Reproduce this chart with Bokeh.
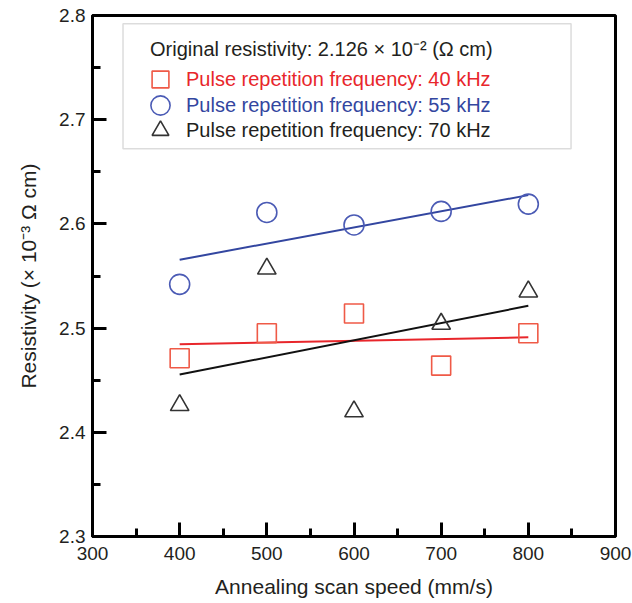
import numpy as np
from bokeh.plotting import figure
from bokeh.models import (Range1d, Legend, LegendItem, BoxAnnotation, FixedTicker, Label)
from bokeh.embed import file_html
from bokeh.resources import INLINE

# ---- data ----
speed = [400, 500, 600, 700, 800]
res_40 = [2.471, 2.495, 2.514, 2.464, 2.495]
res_55 = [2.542, 2.611, 2.599, 2.612, 2.619]
res_70 = [2.426, 2.557, 2.420, 2.504, 2.535]

x_major = [300, 400, 500, 600, 700, 800, 900]
x_minor = [350, 450, 550, 650, 750, 850]
y_major = [2.3, 2.4, 2.5, 2.6, 2.7, 2.8]
y_minor = [2.35, 2.45, 2.55, 2.65, 2.75]

labels = ["Pulse repetition frequency: 40 kHz",
          "Pulse repetition frequency: 55 kHz",
          "Pulse repetition frequency: 70 kHz"]
note = "Original resistivity: 2.126 \u00d7 10\u207b\u00b2 (\u03a9 cm)"

RED = "#e8262b"
RED_M = "#ef5a47"
BLUE = "#3346a0"
BLUE_M = "#4b5bb5"
BLACK = "#111111"
FONT = "Liberation Sans"
TXT = "#231f20"

p = figure(width=632, height=603, output_backend="svg", toolbar_location=None,
           x_range=Range1d(300, 900), y_range=Range1d(2.3, 2.8),
           min_border_left=92, min_border_right=17, min_border_top=15, min_border_bottom=67)
p.xgrid.visible = False
p.ygrid.visible = False
p.outline_line_color = "black"
p.outline_line_width = 3
p.outline_line_alpha = 1

p.xaxis.ticker = FixedTicker(ticks=x_major, minor_ticks=x_minor)
p.yaxis.ticker = FixedTicker(ticks=y_major, minor_ticks=y_minor)
for ax in (p.xaxis, p.yaxis):
    ax.axis_line_width = 3
    ax.axis_line_color = "black"
    ax.major_tick_in = 14
    ax.major_tick_out = 0
    ax.minor_tick_in = 8
    ax.minor_tick_out = 0
    ax.major_tick_line_width = 3
    ax.minor_tick_line_width = 3
    ax.major_tick_line_color = "black"
    ax.minor_tick_line_color = "black"
    ax.major_label_text_font = FONT
    ax.major_label_text_font_size = "19px"
    ax.major_label_text_color = TXT
    ax.axis_label_text_font = FONT
    ax.axis_label_text_font_size = "21px"
    ax.axis_label_text_font_style = "normal"
    ax.axis_label_text_color = TXT
p.xaxis.major_label_standoff = 10
p.yaxis.major_label_standoff = 7
p.xaxis.axis_label = "Annealing scan speed (mm/s)"
p.yaxis.axis_label = "Resistivity (\u00d7 10\u207b\u00b3 \u03a9 cm)"
p.xaxis.axis_label_standoff = 12
p.yaxis.axis_label_standoff = 16

xs = np.array(speed, dtype=float)
renderers = []
for vals, lc, mc, marker, size in [(res_40, RED, RED_M, "square", 19),
                                   (res_55, BLUE, BLUE_M, "circle", 20),
                                   (res_70, BLACK, "#333333", "triangle", 18.5)]:
    k, b = np.polyfit(xs, np.array(vals), 1)
    p.line([xs[0], xs[-1]], [k * xs[0] + b, k * xs[-1] + b], line_color=lc, line_width=2)
    r = p.scatter(speed, vals, marker=marker, size=size, fill_alpha=0,
                  line_color=mc, line_width=1.6)
    renderers.append(r)

# legend box
box = BoxAnnotation(left=335, right=849, bottom=2.6721, top=2.792,
                    fill_alpha=0, line_color="#8c8c8c", line_width=1.5)
p.add_layout(box)

p.add_layout(Label(x=366, y=2.7683, text=note, text_baseline="middle",
                   text_font=FONT, text_font_size="20px", text_color=TXT))

# (x, y, glyph size, standoff, text colour)
specs = [(47, 436, 42, 5, RED), (44, 407, 48, 2, BLUE), (47, 385, 42, 5, TXT)]
for r, lab, (lx, ly, gs, so, tc) in zip(renderers, labels, specs):
    lg = Legend(items=[LegendItem(label=lab, renderers=[r])], location=(lx, ly),
                glyph_width=gs, glyph_height=gs, label_standoff=so, padding=0,
                margin=0, border_line_alpha=0, background_fill_alpha=0,
                label_text_font=FONT, label_text_font_size="20px",
                label_text_color=tc, label_height=20)
    p.add_layout(lg)

open("out.html", "w").write(file_html(p, INLINE))
